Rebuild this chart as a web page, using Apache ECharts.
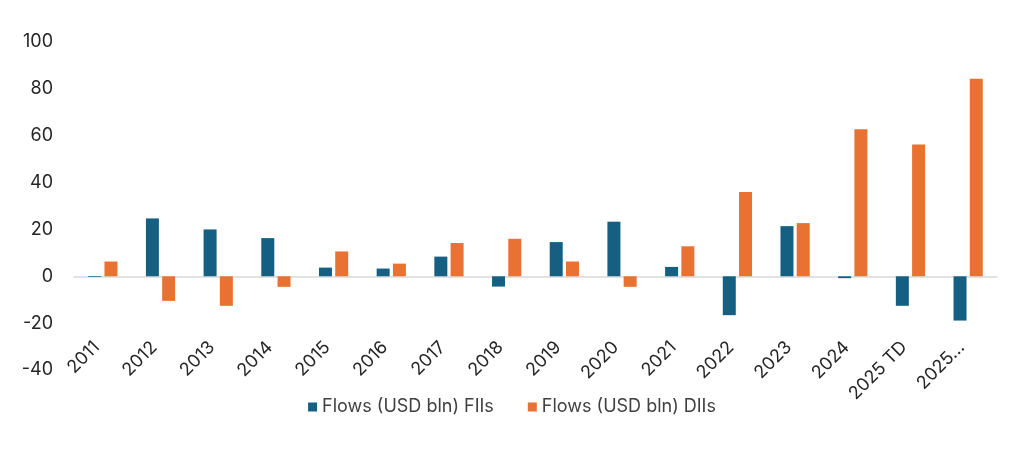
<!DOCTYPE html>
<html>
<head>
<meta charset="utf-8">
<script src="https://cdn.jsdelivr.net/npm/echarts@6/dist/echarts.min.js"></script>
<style>
html,body{margin:0;padding:0;background:#fff;}
#c{width:1024px;height:454px;}
</style>
</head>
<body>
<div id="c"></div>
<script>
const categories = ["2011","2012","2013","2014","2015","2016","2017","2018","2019","2020","2021","2022","2023","2024","2025 TD","2025…"];
const fiiValues = [-0.3, 24.7, 20.0, 16.3, 3.7, 3.3, 8.4, -4.4, 14.6, 23.3, 4.0, -16.6, 21.4, -0.8, -12.6, -18.9];
const diiValues = [6.3, -10.5, -12.6, -4.5, 10.6, 5.4, 14.2, 16.0, 6.3, -4.5, 12.8, 36.0, 22.7, 62.8, 56.3, 84.3];
const seriesNames = ["Flows (USD bln) FIIs", "Flows (USD bln) DIIs"];
const yTicks = {min: -40, max: 100, interval: 20};

const FONT = "Inter, 'Open Sans', sans-serif";
const chart = echarts.init(document.getElementById('c'));
chart.setOption({
  animation: false,
  textStyle: {fontFamily: FONT},
  color: ['#156082', '#E97132'],
  grid: {left: 74, right: 27, top: 42, bottom: 84, containLabel: false, outerBoundsMode: 'none'},
  legend: {
    top: 393, left: 'center',
    itemWidth: 9, itemHeight: 9, itemGap: 34,
    icon: 'rect',
    textStyle: {fontSize: 18, color: '#404040', fontFamily: FONT},
    data: seriesNames
  },
  xAxis: {
    type: 'category',
    data: categories,
    axisLine: {onZero: true, lineStyle: {color: '#d9d9d9', width: 1.5}},
    axisTick: {show: false},
    axisLabel: {rotate: 45, margin: -32, padding: [0, 9, 0, 0], fontSize: 18, color: '#262626', interval: 0, fontFamily: FONT}
  },
  yAxis: {
    type: 'value',
    min: yTicks.min, max: yTicks.max, interval: yTicks.interval,
    splitLine: {show: false},
    axisLine: {show: false},
    axisTick: {show: false},
    axisLabel: {fontSize: 18, color: '#262626', margin: 21, fontFamily: FONT}
  },
  series: [
    {name: seriesNames[0], type: 'bar', data: fiiValues, barWidth: 13, barGap: '25%'},
    {name: seriesNames[1], type: 'bar', data: diiValues, barWidth: 13, barGap: '25%'}
  ]
});
</script>
</body>
</html>
